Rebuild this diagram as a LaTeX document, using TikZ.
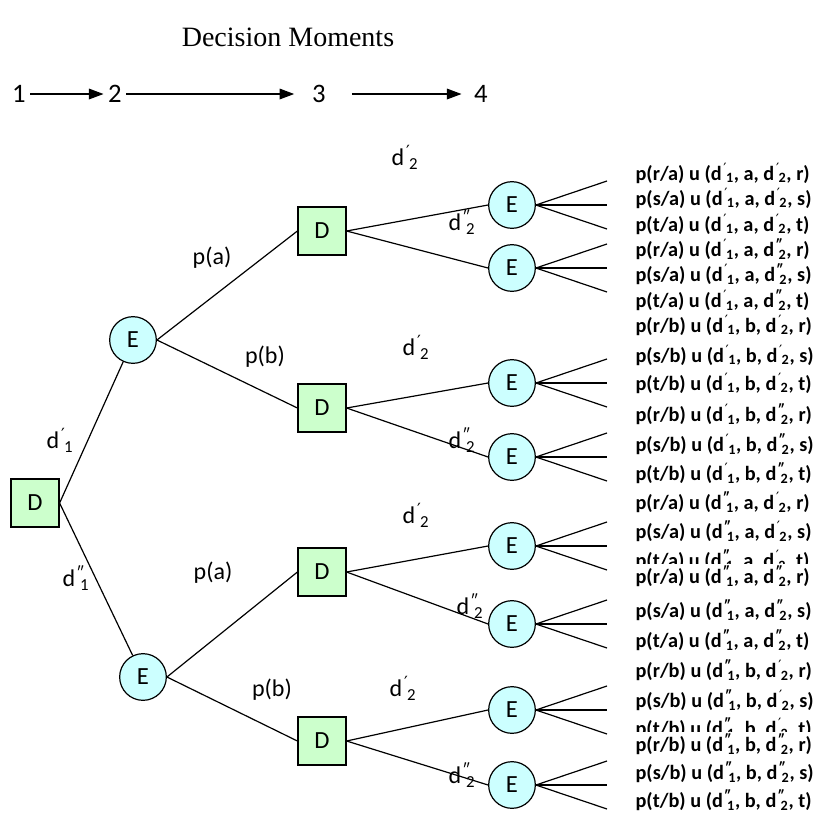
\documentclass[tikz,border=0pt]{standalone}
\usepackage{fontspec}
\setmainfont{Carlito}
\newfontfamily\titlefont{Liberation Serif}
\newfontfamily\primefont{DejaVu Sans}
\usetikzlibrary{arrows.meta}
\definecolor{dgreen}{HTML}{CCFFCC}
\definecolor{ecyan}{HTML}{CCFFFF}
\newcommand{\pr}{{\primefont\mdseries ′}}
\newcommand{\ppr}{″}
\newcommand{\dvar}[2]{d\rlap{\textsuperscript{\kern0.12em #1}}\textsubscript{\kern0.3em #2}}
\begin{document}
\begin{tikzpicture}[x=0.75pt, y=-0.75pt]
    % Define styles
    \tikzset{
        decision/.style={draw, line width=0.9pt, fill=dgreen, minimum size=36pt, inner sep=0pt, font=\fontsize{18.5}{20}\selectfont},
        event/.style={circle, draw, line width=0.9pt, fill=ecyan, minimum size=35pt, inner sep=0pt, font=\fontsize{18.5}{20}\selectfont},
        branch/.style={line width=0.9pt},
        prob/.style={font=\fontsize{18}{20}\selectfont},
        outcome/.style={anchor=west, fill=white, inner sep=1pt, font=\bfseries\fontsize{15.2}{17}\selectfont},
        moment/.style={font=\fontsize{20}{22}\selectfont},
        timearrow/.style={line width=0.9pt, -{Triangle[length=11pt, width=8pt]}}
    }
    \useasboundingbox (0,0) rectangle (822,833);

    % Title
    \node[font=\titlefont\fontsize{21}{24}\selectfont] (title) at (288,37) {Decision Moments};

    % Decision moments axis
    \node[moment] (m1) at (19,94) {1};
    \node[moment] (m2) at (115,94) {2};
    \node[moment] (m3) at (319,94) {3};
    \node[moment] (m4) at (481,94) {4};
    \draw[timearrow] (m1) -- (m2);
    \draw[timearrow] (m2) -- ([xshift=-10] m3.west);
    \draw[timearrow] ([xshift=16] m3.east) -- ([xshift=-6] m4.west);

    % First decision
    \node[decision] (d0) at (35,503) {D};

    % First events
    \node[event] (ea) at (133,340) {E};
    \node[event] (eb) at (143,677) {E};

    % Second decisions
    \node[decision] (daa) at (322,231) {D};
    \node[decision] (dab) at (322,408) {D};
    \node[decision] (dba) at (322,572) {D};
    \node[decision] (dbb) at (322,741) {D};

    % Second events
    \node[event] (e1) at (512,205) {E};
    \node[event] (e2) at (512,268) {E};
    \node[event] (e3) at (512,383) {E};
    \node[event] (e4) at (512,457) {E};
    \node[event] (e5) at (512,546) {E};
    \node[event] (e6) at (512,624) {E};
    \node[event] (e7) at (512,710) {E};
    \node[event] (e8) at (512,785) {E};

    % Branches
    \draw[branch] (d0.east) -- (ea);
    \draw[branch] (d0.east) -- (eb);
    \draw[branch] (ea.east) -- (daa.west);
    \draw[branch] (ea.east) -- (dab.west);
    \draw[branch] (eb.east) -- (dba.west);
    \draw[branch] (eb.east) -- (dbb.west);
    \draw[branch] (daa.east) -- (e1.west);
    \draw[branch] (daa.east) -- (e2.west);
    \draw[branch] (dab.east) -- (e3.west);
    \draw[branch] (dab.east) -- (e4.west);
    \draw[branch] (dba.east) -- (e5.west);
    \draw[branch] (dba.east) -- (e6.west);
    \draw[branch] (dbb.east) -- (e7.west);
    \draw[branch] (dbb.east) -- (e8.west);

    % Outcome fans
    \foreach \e in {e1,e2,e3,e4,e5,e6,e7,e8} {
        \path (\e.center) ++(95,-24) coordinate (\e-up)
              (\e.center) ++(95,0) coordinate (\e-mid)
              (\e.center) ++(95,24) coordinate (\e-dn);
        \draw[branch] (\e.east) -- (\e-up);
        \draw[branch] (\e.east) -- (\e-mid);
        \draw[branch] (\e.east) -- (\e-dn);
    }

    % Branch labels
    \node[prob] (l-d1) at (60,440) {\dvar{\pr}{1}};
    \node[prob] (l-d1b) at (76,578) {\dvar{\ppr}{1}};
    \node[prob] (l-pa1) at (212,258) {p(a)};
    \node[prob] (l-pb1) at (265,357) {p(b)};
    \node[prob] (l-pa2) at (213,573) {p(a)};
    \node[prob] (l-pb2) at (272,690) {p(b)};
    \node[prob] (l-aa1) at (405,157) {\dvar{\pr}{2}};
    \node[prob] (l-aa2) at (462,222) {\dvar{\ppr}{2}};
    \node[prob] (l-ab1) at (416,347) {\dvar{\pr}{2}};
    \node[prob] (l-ab2) at (462,440) {\dvar{\ppr}{2}};
    \node[prob] (l-ba1) at (416,515) {\dvar{\pr}{2}};
    \node[prob] (l-ba2) at (470,606) {\dvar{\ppr}{2}};
    \node[prob] (l-bb1) at (403,688) {\dvar{\pr}{2}};
    \node[prob] (l-bb2) at (462,775) {\dvar{\ppr}{2}};

    % Outcomes
    \node[outcome] (o1) at (634,173) {p(r/a) u (\dvar{\pr}{1}, a, \dvar{\pr}{2}, r)};
    \node[outcome] (o2) at (634,198) {p(s/a) u (\dvar{\pr}{1}, a, \dvar{\pr}{2}, s)};
    \node[outcome] (o3) at (634,224) {p(t/a) u (\dvar{\pr}{1}, a, \dvar{\pr}{2}, t)};
    \node[outcome] (o4) at (634,249) {p(r/a) u (\dvar{\pr}{1}, a, \dvar{\ppr}{2}, r)};
    \node[outcome] (o5) at (634,274) {p(s/a) u (\dvar{\pr}{1}, a, \dvar{\ppr}{2}, s)};
    \node[outcome] (o6) at (634,300) {p(t/a) u (\dvar{\pr}{1}, a, \dvar{\ppr}{2}, t)};
    \node[outcome] (o7) at (634,325) {p(r/b) u (\dvar{\pr}{1}, b, \dvar{\pr}{2}, r)};
    \node[outcome] (o8) at (634,355) {p(s/b) u (\dvar{\pr}{1}, b, \dvar{\pr}{2}, s)};
    \node[outcome] (o9) at (634,383) {p(t/b) u (\dvar{\pr}{1}, b, \dvar{\pr}{2}, t)};
    \node[outcome] (o10) at (634,414) {p(r/b) u (\dvar{\pr}{1}, b, \dvar{\ppr}{2}, r)};
    \node[outcome] (o11) at (634,444) {p(s/b) u (\dvar{\pr}{1}, b, \dvar{\ppr}{2}, s)};
    \node[outcome] (o12) at (634,473) {p(t/b) u (\dvar{\pr}{1}, b, \dvar{\ppr}{2}, t)};
    \node[outcome] (o13) at (634,502) {p(r/a) u (\dvar{\ppr}{1}, a, \dvar{\pr}{2}, r)};
    \node[outcome] (o14) at (634,531) {p(s/a) u (\dvar{\ppr}{1}, a, \dvar{\pr}{2}, s)};
    \node[outcome] (o15) at (634,560) {p(t/a) u (\dvar{\ppr}{1}, a, \dvar{\pr}{2}, t)};
    \node[outcome] (o16) at (634,576) {p(r/a) u (\dvar{\ppr}{1}, a, \dvar{\ppr}{2}, r)};
    \node[outcome] (o17) at (634,610) {p(s/a) u (\dvar{\ppr}{1}, a, \dvar{\ppr}{2}, s)};
    \node[outcome] (o18) at (634,640) {p(t/a) u (\dvar{\ppr}{1}, a, \dvar{\ppr}{2}, t)};
    \node[outcome] (o19) at (634,670) {p(r/b) u (\dvar{\ppr}{1}, b, \dvar{\pr}{2}, r)};
    \node[outcome] (o20) at (634,700) {p(s/b) u (\dvar{\ppr}{1}, b, \dvar{\pr}{2}, s)};
    \node[outcome] (o21) at (634,728) {p(t/b) u (\dvar{\ppr}{1}, b, \dvar{\pr}{2}, t)};
    \node[outcome] (o22) at (634,744) {p(r/b) u (\dvar{\ppr}{1}, b, \dvar{\ppr}{2}, r)};
    \node[outcome] (o23) at (634,772) {p(s/b) u (\dvar{\ppr}{1}, b, \dvar{\ppr}{2}, s)};
    \node[outcome] (o24) at (634,800) {p(t/b) u (\dvar{\ppr}{1}, b, \dvar{\ppr}{2}, t)};

\end{tikzpicture}
\end{document}
